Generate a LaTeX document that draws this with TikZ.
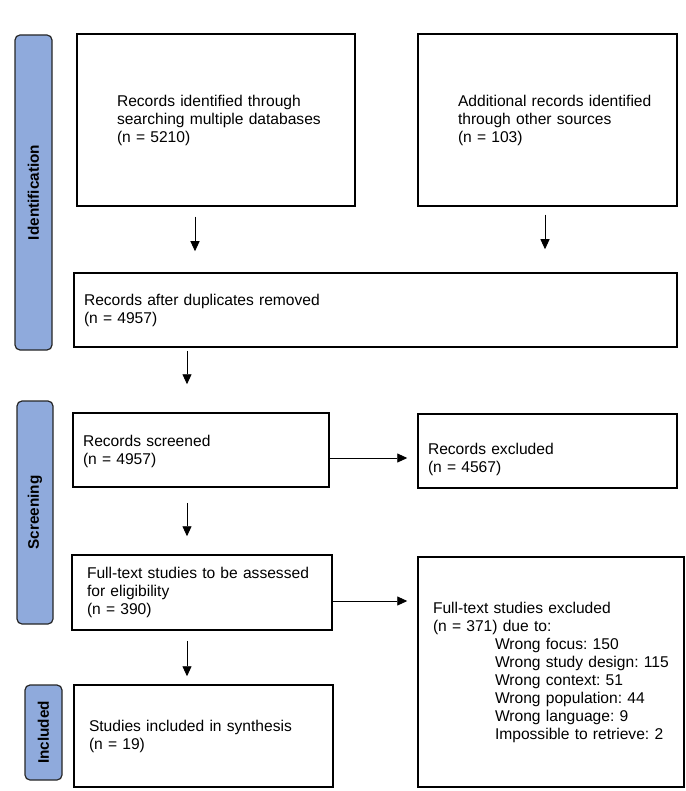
\documentclass[tikz,border=0pt]{standalone}
\usepackage{fontspec}
\setmainfont{Liberation Sans}
\usetikzlibrary{arrows.meta}
\definecolor{stagefill}{HTML}{8FAADC}

\begin{document}
\begin{tikzpicture}[x=1pt,y=-1pt]
	\tikzset{
	  box/.style={rectangle,draw,line width=1.5pt,align=left,inner ysep=0pt,inner xsep=10pt,
	    font=\fontsize{15.6}{18}\selectfont\frenchspacing},
	  stage/.style={rectangle,draw=black!85,line width=1.2pt,fill=stagefill,rounded corners=5pt,
	    inner sep=0pt,rotate=90,font=\fontsize{15.3}{18}\selectfont\bfseries},
	  flow/.style={line width=0.9pt,-{Triangle[length=10pt,width=9pt]}}
	}
	\useasboundingbox (0,0) rectangle (685,791);
	%STAGES
	\node[stage,minimum width=315pt,minimum height=37pt] (ident) at (33.5,192.5) {Identification};
	\node[stage,minimum width=223pt,minimum height=36pt] (screen) at (35,512.5) {Screening};
	\node[stage,minimum width=95pt,minimum height=37pt] (incl) at (43.5,732.5) {Included};
	%BOXES
	\node[box,minimum width=278pt,minimum height=172pt,text width=258pt] (search) at (216,120)
	  {\leftskip=30pt Records identified through\\searching multiple databases\\(n = 5210)\par};
	\node[box,minimum width=259pt,minimum height=172pt,text width=239pt] (other) at (547.5,120)
	  {\leftskip=30pt Additional records identified\\through other sources\\(n = 103)\par};
	\node[box,minimum width=603pt,minimum height=74pt,text width=583pt] (dedup) at (375.5,310)
	  {Records after duplicates removed\\(n = 4957)};
	\node[box,minimum width=256pt,minimum height=74pt,text width=236pt] (screened) at (201,450)
	  {\rule{0pt}{15pt}Records screened\\(n = 4957)};
	\node[box,minimum width=259pt,minimum height=74pt,text width=239pt] (excluded) at (547.5,451)
	  {\rule{0pt}{29pt}Records excluded\\(n = 4567)};
	\node[box,minimum width=260pt,minimum height=75pt,text width=240pt] (fulltext) at (202,592.5)
	  {\leftskip=5pt Full-text studies to be assessed\\for eligibility\\(n = 390)\par};
	\node[box,minimum width=266pt,minimum height=230pt,text width=246pt] (ftexcl) at (551,672)
	  {\leftskip=5pt Full-text studies excluded\\(n = 371) due to:\\
	   \hspace*{62pt}Wrong focus: 150\\
	   \hspace*{62pt}Wrong study design: 115\\
	   \hspace*{62pt}Wrong context: 51\\
	   \hspace*{62pt}Wrong population: 44\\
	   \hspace*{62pt}Wrong language: 9\\
	   \hspace*{62pt}Impossible to retrieve: 2\par};
	\node[box,minimum width=259pt,minimum height=102pt,text width=239pt] (synth) at (203.5,736)
	  {\leftskip=5pt Studies included in synthesis\\(n = 19)\par};
	%ARROWS
	\coordinate (laneA) at (195,0);
	\coordinate (laneB) at (545,0);
	\coordinate (laneC) at (187,0);
	\foreach \from/\to/\lane/\st/\en in {search/dedup/laneA/10/21,other/dedup/laneB/8/23,
	  dedup/screened/laneC/3/28,screened/fulltext/laneC/15/18,fulltext/synth/laneC/10/8} {
		\draw[flow,shorten <=\st pt,shorten >=\en pt] (\from.south -| \lane) -- (\to.north -| \lane);
	  }
	\draw[flow,shorten >=10pt] ([yshift=-8pt]screened.east) -- ([yshift=-8pt]screened.east -| excluded.west);
	\draw[flow,shorten >=10pt] ([yshift=-8.5pt]fulltext.east) -- ([yshift=-8.5pt]fulltext.east -| ftexcl.west);
\end{tikzpicture}
\end{document}
